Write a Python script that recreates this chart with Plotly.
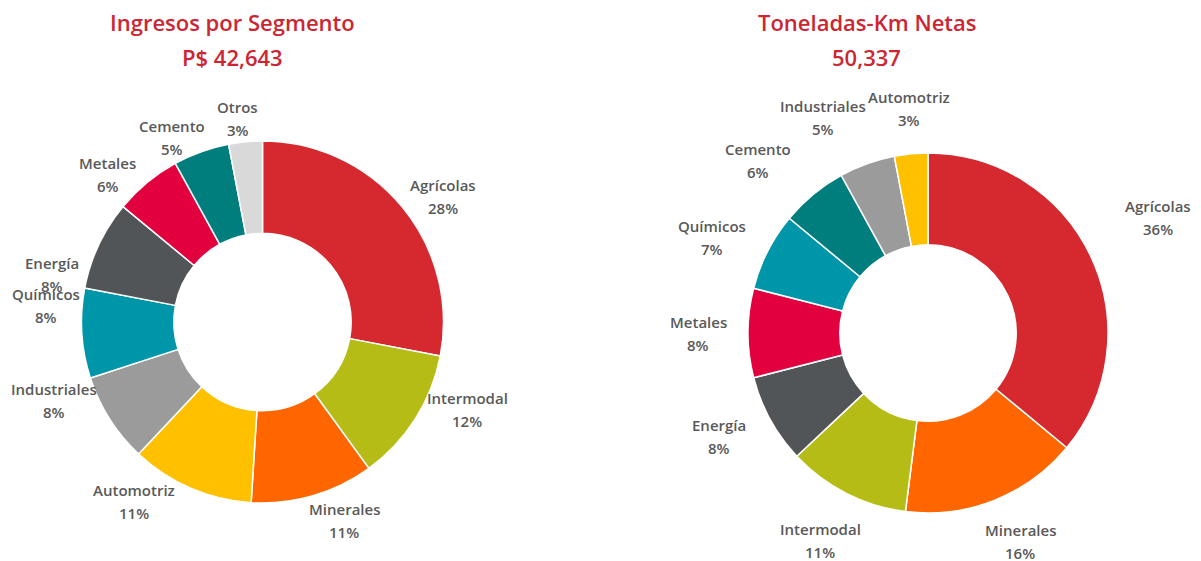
import math
import plotly.graph_objects as go

W, H = 1201, 561          # browser window
PAD = 8                   # default page (body) margin
FW, FH = W - PAD, H - PAD

# Left chart: Ingresos por Segmento (%)
rev_labels = ["Agrícolas", "Intermodal", "Minerales", "Automotriz", "Industriales",
              "Químicos", "Energía", "Metales", "Cemento", "Otros"]
rev_values = [28, 12, 11, 11, 8, 8, 8, 6, 5, 3]
rev_colors = ["#D5282F", "#B5BC16", "#FF6600", "#FFC000", "#9B9B9B",
              "#0096A9", "#525557", "#E2003E", "#007E7E", "#D9D9D9"]

# Right chart: Toneladas-Km Netas (%)
tkm_labels = ["Agrícolas", "Minerales", "Intermodal", "Energía", "Metales",
              "Químicos", "Cemento", "Industriales", "Automotriz"]
tkm_values = [36, 16, 11, 8, 8, 7, 6, 5, 3]
tkm_colors = ["#D5282F", "#FF6600", "#B5BC16", "#525557", "#E2003E",
              "#0096A9", "#007E7E", "#9B9B9B", "#FFC000"]

titles = [("Ingresos por Segmento", "P$ 42,643"), ("Toneladas-Km Netas", "50,337")]

# label layout tweaks (angular nudge in degrees, radial nudge in px)
rev_nudge = [(4.6, 0), (-9.4, 0), (-6.3, 0), (12.2, 0), (11.8, -6),
             (8.1, 6), (-12.4, 6), (-6.7, 0), (-6.2, -6), (-1.6, 0)]
tkm_nudge = [(-1.6, 18), (-2.4, -7), (0.5, -4), (2.6, 0), (0, 4),
             (-3.0, 0), (-4.9, 8), (-6.2, 0), (0.7, 0)]

RED = "#CD2532"
GRAY = "#595959"
FONT = "Open Sans"
LSIZE = 15

# page geometry: center x, center y, radius, label base radius, title center x
geo = [(262.5, 322, 181, 180, 232), (928, 333, 180, 200, 867)]


def px2paper(x, y):
    return (x - PAD) / FW, (FH - (y - PAD)) / FH


fig = go.Figure()
annotations = []

for (labels, values, colors, nudges), (cx, cy, r, r0, tx), (t1, t2) in zip(
        [(rev_labels, rev_values, rev_colors, rev_nudge),
         (tkm_labels, tkm_values, tkm_colors, tkm_nudge)],
        geo, titles):
    x0, y0 = px2paper(cx - r, cy + r)
    x1, y1 = px2paper(cx + r, cy - r)
    fig.add_trace(go.Pie(
        labels=labels, values=values, sort=False, direction="clockwise", rotation=0,
        hole=0.49, textinfo="none", hoverinfo="label+percent",
        marker=dict(colors=colors, line=dict(color="white", width=1.5)),
        domain=dict(x=[x0, x1], y=[y0, y1]),
        showlegend=False,
    ))
    total = sum(values)
    cum = 0
    for lab, v, (da, dr) in zip(labels, values, nudges):
        mid = math.radians((cum + v / 2) / total * 360 + da)
        cum += v
        pct = f"{round(v / total * 100)}%"
        w = max(len(lab), len(pct)) * 7.3
        ext = abs(math.sin(mid)) * w / 2 + abs(math.cos(mid)) * 23
        rad = r0 + ext + dr
        lx = cx + rad * math.sin(mid)
        ly = cy - rad * math.cos(mid)
        for txt, dy in ((lab, -11), (pct, 12)):
            ax, ay = px2paper(lx, ly + dy)
            annotations.append(dict(x=ax, y=ay, xref="paper", yref="paper", text=txt,
                                    showarrow=False, xanchor="center", yanchor="middle",
                                    font=dict(family=FONT, size=LSIZE, color=GRAY, weight=600)))
    for txt, ty in ((t1, 22), (t2, 57)):
        ax, ay = px2paper(tx, ty)
        annotations.append(dict(x=ax, y=ay, xref="paper", yref="paper", text=txt,
                                showarrow=False, xanchor="center", yanchor="middle",
                                font=dict(family=FONT, size=22, color=RED, weight=600)))

fig.update_layout(width=FW, height=FH, margin=dict(l=0, r=0, t=0, b=0),
                  paper_bgcolor="white", plot_bgcolor="white",
                  annotations=annotations)

fig.write_html("out.html")
